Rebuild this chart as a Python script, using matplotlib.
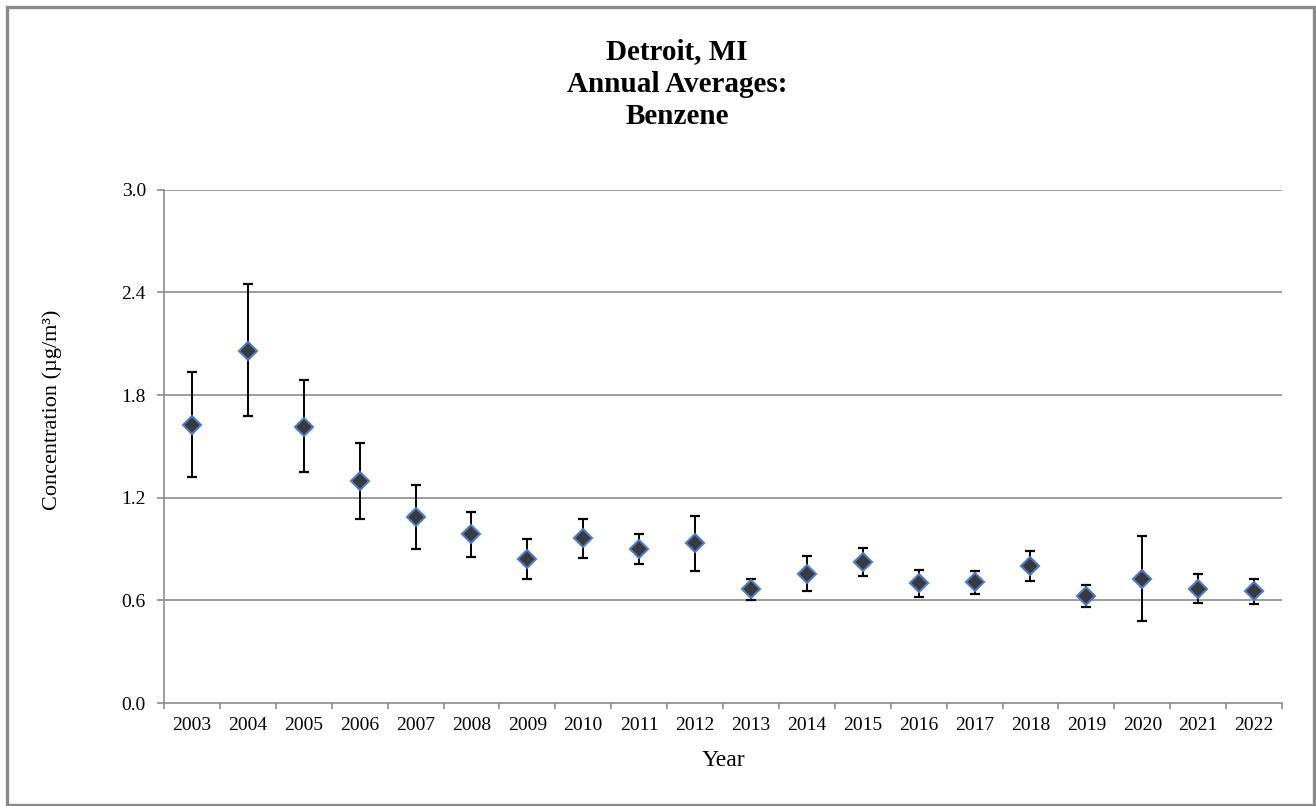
import matplotlib
matplotlib.use("Agg")
import matplotlib.pyplot as plt
from matplotlib.patches import Rectangle
from matplotlib.ticker import FixedLocator, NullFormatter
import numpy as np

# Annual average benzene concentrations (µg/m³) with 95% confidence bounds
years = ["2003", "2004", "2005", "2006", "2007", "2008", "2009", "2010", "2011", "2012",
         "2013", "2014", "2015", "2016", "2017", "2018", "2019", "2020", "2021", "2022"]
means = [1.624, 2.060, 1.616, 1.297, 1.088, 0.987, 0.843, 0.962, 0.900, 0.935,
         0.664, 0.755, 0.824, 0.699, 0.705, 0.802, 0.623, 0.724, 0.668, 0.652]
lower = [1.318, 1.675, 1.348, 1.073, 0.901, 0.853, 0.726, 0.847, 0.812, 0.773,
         0.602, 0.652, 0.744, 0.619, 0.637, 0.714, 0.559, 0.477, 0.584, 0.578]
upper = [1.932, 2.446, 1.887, 1.521, 1.275, 1.118, 0.956, 1.075, 0.987, 1.094,
         0.724, 0.857, 0.905, 0.777, 0.773, 0.890, 0.687, 0.974, 0.753, 0.724]
yticks = [0.0, 0.6, 1.2, 1.8, 2.4, 3.0]

plt.rcParams["font.family"] = ["Liberation Serif", "DejaVu Serif"]

W, H = 1316, 806
fig = plt.figure(figsize=(W / 100, H / 100), dpi=100)
fig.patch.set_facecolor("white")

# outer chart frame
fig.add_artist(Rectangle((6.5 / W, 1.5 / H), (1313.5 - 6.5) / W, (799.5 - 1.5) / H,
                         transform=fig.transFigure, fill=False,
                         edgecolor="#8a8a8a", linewidth=2.4))

left, right, top, bottom = 164, 1282, 189.7, 703
ax = fig.add_axes([left / W, (H - bottom) / H, (right - left) / W, (bottom - top) / H])

x = np.arange(len(years))
m = np.array(means)
yerr = np.vstack([m - np.array(lower), np.array(upper) - m])

grid_c = "#8c8c8c"
for t in yticks[1:]:
    ax.axhline(t, color=grid_c, linewidth=1.2, zorder=1)

ax.errorbar(x, m, yerr=yerr, fmt="none", ecolor="black", elinewidth=1.4,
            capsize=3.8, capthick=1.6, zorder=3)
ax.plot(x, m, linestyle="none", marker="D", markersize=8.8,
        markerfacecolor="#3a3a3a", markeredgecolor="#4a7bd0",
        markeredgewidth=1.5, zorder=4)

ax.set_xlim(-0.5, len(years) - 0.5)
ax.set_ylim(0, 3.0)

for s in ["top", "right"]:
    ax.spines[s].set_visible(False)
for s in ["left", "bottom"]:
    ax.spines[s].set_color(grid_c)
    ax.spines[s].set_linewidth(1.2)

# x: tick marks on category boundaries, labels at category centres
ax.xaxis.set_major_locator(FixedLocator(np.arange(-0.5, len(years), 1.0)))
ax.xaxis.set_major_formatter(NullFormatter())
ax.xaxis.set_minor_locator(FixedLocator(x))
ax.set_xticklabels(years, minor=True)
ax.tick_params(axis="x", which="major", direction="out", length=4,
               width=1.2, color=grid_c)
ax.tick_params(axis="x", which="minor", length=0, pad=10, labelsize=14)

ax.set_yticks(yticks)
ax.set_yticklabels([f"{t:.1f}" for t in yticks])
ax.tick_params(axis="y", direction="out", length=5, width=1.2,
               color=grid_c, pad=8, labelsize=14)

fig.text(723 / W, 1 - 760 / H, "Year", ha="center", va="center", fontsize=17)
fig.text(52 / W, 1 - 410 / H, "Concentration (µg/m³)", ha="center", va="center",
         rotation=90, fontsize=16)

fig.text(677 / W, 1 - 84 / H, "Detroit, MI\nAnnual Averages:\nBenzene",
         ha="center", va="center", fontsize=21, fontweight="bold",
         linespacing=1.26)

fig.savefig("out.png", dpi=100, facecolor="white")
